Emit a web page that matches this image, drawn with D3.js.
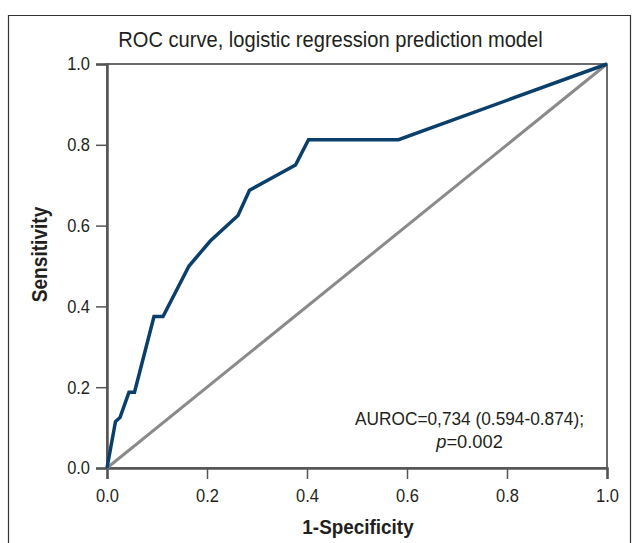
<!DOCTYPE html>
<html>
<head>
<meta charset="utf-8">
<script src="https://cdn.jsdelivr.net/npm/d3@7"></script>
<style>
  body { margin: 0; background: #fff; }
  text { font-family: "Liberation Sans", Arial, sans-serif; fill: #231f20; }
</style>
</head>
<body>
<svg id="chart" width="636" height="543"></svg>
<script>
// ROC curve points
var fpr = [0, 0.017, 0.026, 0.044, 0.055, 0.094, 0.112, 0.164, 0.207, 0.262, 0.285, 0.377, 0.403, 0.583, 1];
var tpr = [0, 0.115, 0.125, 0.1875, 0.1875, 0.375, 0.375, 0.5, 0.5625, 0.625, 0.6875, 0.75, 0.8125, 0.8125, 1];
var ref_line = [0, 1];
var tick_values = [0, 0.2, 0.4, 0.6, 0.8, 1.0];

var svg = d3.select('#chart');

var margin = {left: 107, right: 29, top: 64, bottom: 75};
var plot_w = 636 - margin.left - margin.right;
var plot_h = 543 - margin.top - margin.bottom;

var x_scale = d3.scaleLinear().domain([0, 1]).range([0, plot_w]);
var y_scale = d3.scaleLinear().domain([0, 1]).range([plot_h, 0]);

// the original font is a condensed grotesque, so squeeze text horizontally
function cond_text(parent, x, y, str, size, sx, rot) {
  var tr = 'translate(' + x + ',' + y + ')' + (rot ? ' rotate(' + rot + ')' : '') +
    ' scale(' + sx + ',1)';
  return parent.append('text')
    .attr('transform', tr)
    .attr('text-anchor', 'middle')
    .style('font-size', size + 'px')
    .text(str);
}

// outer frame (bottom is cut off in the picture)
svg.append('path')
  .attr('d', 'M 8.5,543 L 8.5,15.5 L 630.5,15.5 L 630.5,543')
  .attr('fill', 'none')
  .attr('stroke', '#333')
  .attr('stroke-width', 1.2);

cond_text(svg, 330.5, 47, 'ROC curve, logistic regression prediction model', 22.5, 0.893);

var plot = svg.append('g')
  .attr('transform', 'translate(' + margin.left + ',' + margin.top + ')');

// box around the plot area
plot.append('rect')
  .attr('width', plot_w)
  .attr('height', plot_h)
  .attr('fill', 'none')
  .attr('stroke', '#3a3a3a')
  .attr('stroke-width', 1.5);

var x_axis = plot.append('g')
  .attr('transform', 'translate(0,' + plot_h + ')')
  .call(d3.axisBottom(x_scale).tickValues(tick_values).tickFormat(d3.format('.1f')).tickSize(11).tickPadding(10));

var y_axis = plot.append('g')
  .call(d3.axisLeft(y_scale).tickValues(tick_values).tickFormat(d3.format('.1f')).tickSize(11).tickPadding(6));

[x_axis, y_axis].forEach(function(ax) {
  ax.select('.domain').attr('stroke', '#555').attr('stroke-width', 2.5);
  ax.selectAll('.tick line').attr('stroke', '#555').attr('stroke-width', 1.5);
  ax.selectAll('.tick text')
    .style('font-family', '"Liberation Sans", Arial, sans-serif')
    .style('font-size', '18.5px')
    .attr('fill', '#231f20')
    .each(function() {
      var t = d3.select(this);
      var old_x = +t.attr('x') || 0;
      t.attr('x', 0).attr('transform', 'translate(' + old_x + ',0) scale(0.89,1)');
    });
});

// reference diagonal
var line = d3.line()
  .x(function(d) { return x_scale(d[0]); })
  .y(function(d) { return y_scale(d[1]); });

plot.append('path')
  .datum(ref_line.map(function(v) { return [v, v]; }))
  .attr('d', line)
  .attr('fill', 'none')
  .attr('stroke', '#8a8a8a')
  .attr('stroke-width', 3);

plot.append('path')
  .datum(fpr.map(function(v, i) { return [v, tpr[i]]; }))
  .attr('d', line)
  .attr('fill', 'none')
  .attr('stroke', '#0b3f6b')
  .attr('stroke-width', 3.5)
  .attr('stroke-linejoin', 'miter');

// axis titles
cond_text(svg, 358, 534, '1-Specificity', 21, 0.9)
  .style('font-weight', 'bold');

cond_text(svg, 47, 254.5, 'Sensitivity', 22, 0.87, -90)
  .style('font-weight', 'bold');

// annotation
cond_text(svg, 469.5, 425, 'AUROC=0,734 (0.594-0.874);', 18.3, 0.944);

var p_txt = cond_text(svg, 469.5, 448, '', 18.3, 1.0);
p_txt.append('tspan').style('font-style', 'italic').text('p');
p_txt.append('tspan').text('=0.002');
</script>
</body>
</html>
